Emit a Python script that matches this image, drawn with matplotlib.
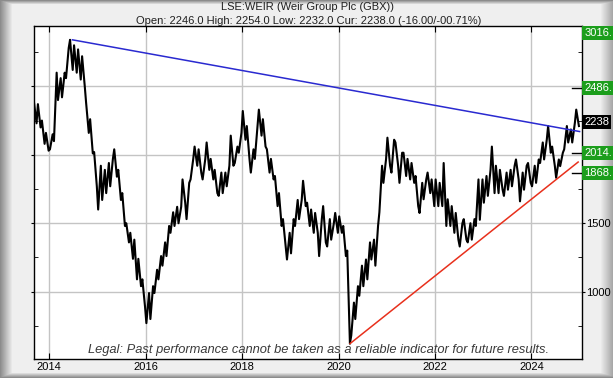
import numpy as np
import matplotlib.pyplot as plt
import matplotlib.transforms as mtransforms

plt.rcParams['font.family'] = ['Liberation Sans', 'DejaVu Sans']

# Monthly high / low, Sep 2013 .. Dec 2024
start_year, start_month = 2013, 9
highs = [2390, 2370, 2250, 2160,
         2150, 2600, 2560, 2600, 2780, 2840, 2800, 2770, 2720, 2380, 2260, 2020,
         1920, 1890, 1940, 1970, 2040, 1890, 1720, 1500, 1430, 1380, 1240, 1090,
         990, 1040, 1160, 1260, 1360, 1480, 1580, 1620, 1620, 1820, 1795, 1970,
         2060, 2040, 1970, 2090, 1970, 1890, 1870, 1870, 1920, 2140, 2060, 2160,
         2320, 2210, 2040, 2210, 2330, 2260, 2040, 1970, 1845, 1720, 1530, 1430,
         1530, 1670, 1670, 1810, 1650, 1600, 1575, 1530, 1625, 1530, 1500, 1575,
         1550, 1480, 1300, 920, 1040, 1190, 1235, 1360, 1380, 1480, 1920, 1970,
         2125, 2110, 2090, 2015, 2015, 1970, 1940, 1845, 1795, 1820, 1870, 1820,
         1820, 1795, 1940, 1675, 1625, 1575, 1500, 1530, 1500, 1530, 1820, 1820,
         1845, 1890, 2060, 1920, 1890, 1870, 1890, 1920, 1966, 1870, 1920, 1940,
         1920, 1966, 2090, 2110, 2210, 2060, 1966, 2015, 2210, 2185, 2235, 2330]
lows = [2230, 2200, 2080, 2030,
        2040, 2100, 2400, 2420, 2560, 2620, 2600, 2550, 2500, 2160, 2010, 1770,
        1600, 1670, 1720, 1770, 1840, 1670, 1480, 1360, 1240, 1090, 1040, 890,
        770, 800, 990, 1090, 1190, 1260, 1430, 1480, 1500, 1650, 1530, 1820,
        1920, 1870, 1820, 1890, 1820, 1720, 1700, 1720, 1770, 1920, 1940, 2015,
        2110, 1970, 1870, 1970, 2140, 2060, 1870, 1820, 1625, 1480, 1330, 1235,
        1280, 1480, 1530, 1625, 1480, 1430, 1430, 1260, 1360, 1330, 1380, 1430,
        1430, 1260, 620, 680, 800, 970, 1040, 1090, 1235, 1190, 1580, 1795,
        1920, 1870, 1920, 1795, 1845, 1820, 1795, 1625, 1575, 1675, 1720, 1625,
        1625, 1625, 1480, 1480, 1430, 1380, 1330, 1380, 1360, 1380, 1480, 1525,
        1650, 1700, 1720, 1720, 1745, 1700, 1745, 1770, 1820, 1660, 1745, 1795,
        1770, 1795, 1940, 1966, 2015, 1920, 1832, 1917, 2040, 2090, 2090, 2210]

# trend lines (decimal year, price)
blue_x = [2014.48, 2025.0]
blue_y = [2840, 2170]
red_x = [2020.24, 2024.97]
red_y = [621, 1947]

# price levels on the right
levels = [3016, 2486, 2238, 2014, 1868]
level_text = ['3016.', '2486.', '2238', '2014.', '1868.']
level_color = ['#1c9e1c', '#1c9e1c', '#000000', '#1c9e1c', '#1c9e1c']

title = "LSE:WEIR (Weir Group Plc (GBX))"
subtitle = "Open: 2246.0 High: 2254.0 Low: 2232.0 Cur: 2238.0 (-16.00/-00.71%)"
legal = "Legal: Past performance cannot be taken as a reliable indicator for future results."

# zigzag path through the monthly ranges
n = len(highs)
t = start_year + (start_month - 1 + np.arange(n) + 0.5) / 12.0
mid = (np.array(highs) + np.array(lows)) / 2
xs, ys = [], []
for i in range(n):
    up = i + 1 < n and mid[i + 1] > mid[i]
    a, b = (lows[i], highs[i]) if up else (highs[i], lows[i])
    xs += [t[i] - 1 / 36, t[i] + 1 / 36]
    ys += [a, b]

W, H = 613, 378
fig = plt.figure(figsize=(W / 100, H / 100), dpi=100)

# bevelled grey frame
bg = fig.add_axes([0, 0, 1, 1], zorder=-10)
xx = np.arange(W)[None, :]
yy = np.arange(H)[:, None]
shade = np.full((H, W), 0.935)
shade = np.minimum(shade, 0.55 + 0.385 * np.clip(xx / 12.0, 0, 1))
shade = np.minimum(shade, 0.66 + 0.275 * np.clip((W - 1 - xx) / 12.0, 0, 1))
shade = np.minimum(shade, 0.55 + 0.385 * np.clip(yy / 4.0, 0, 1))
shade = np.minimum(shade, 0.55 + 0.385 * np.clip((H - 1 - yy) / 5.0, 0, 1))
bg.imshow(shade, cmap='gray', vmin=0, vmax=1, aspect='auto', interpolation='bilinear')
bg.axis('off')

ax = fig.add_axes([34 / W, 19 / H, 548 / W, 333 / H])
ax.set_facecolor('white')
ax.set_xlim(2013.683, 2025.05)
ax.set_ylim(508, 2941)

ax.plot(xs, ys, color='black', lw=1.5, zorder=3)
ax.plot(blue_x, blue_y, color='#2a2ad0', lw=1.1, zorder=4)
ax.plot(red_x, red_y, color='#e8301c', lw=1.1, zorder=4)

years = list(range(2014, 2025, 2))
ax.set_xticks(years)
ax.set_xticklabels([str(y) for y in years], fontsize=8)
ax.set_yticks([1000, 1500, 2000, 2500])
ax.set_yticklabels(['1000', '1500', '', ''], fontsize=8)
ax.set_yticks([750, 1250, 1750, 2250, 2750], minor=True)
ax.yaxis.tick_right()
ax.tick_params(axis='x', direction='in', length=4, top=True, pad=2)
ax.tick_params(axis='y', which='major', direction='out', length=2, left=True, right=True, pad=1)
ax.tick_params(axis='y', which='minor', direction='in', length=3, left=True, right=True)
ax.grid(True, color='#c4c4c4', lw=1)
ax.set_axisbelow(True)
for s in ax.spines.values():
    s.set_color('black')
    s.set_linewidth(1)

ax.text(0.519, 0.018, legal, transform=ax.transAxes, ha='center', va='baseline',
        style='italic', fontsize=9.3, color='#3a3a3a', zorder=6)

trans = mtransforms.blended_transform_factory(ax.transAxes, ax.transData)
ytop = ax.get_ylim()[1] - 50
for lv, txt, col in zip(levels, level_text, level_color):
    yv = min(lv, ytop)
    ax.text(1.004, yv, txt, transform=trans, ha='left', va='center', fontsize=8,
            color='white', clip_on=False, zorder=10,
            bbox=dict(boxstyle='square,pad=0.18', fc=col, ec='none'))
    if col != '#000000' and lv < ytop:
        ax.plot([0.982, 1.0], [lv, lv], transform=trans, color='black', lw=1,
                clip_on=False, zorder=5)

fig.text(0.502, 1 - 7.5 / H, title, ha='center', va='center', fontsize=8, color='#202020')
fig.text(0.504, 1 - 20.5 / H, subtitle, ha='center', va='center', fontsize=8, color='#202020')

fig.savefig('out.png', dpi=100)
